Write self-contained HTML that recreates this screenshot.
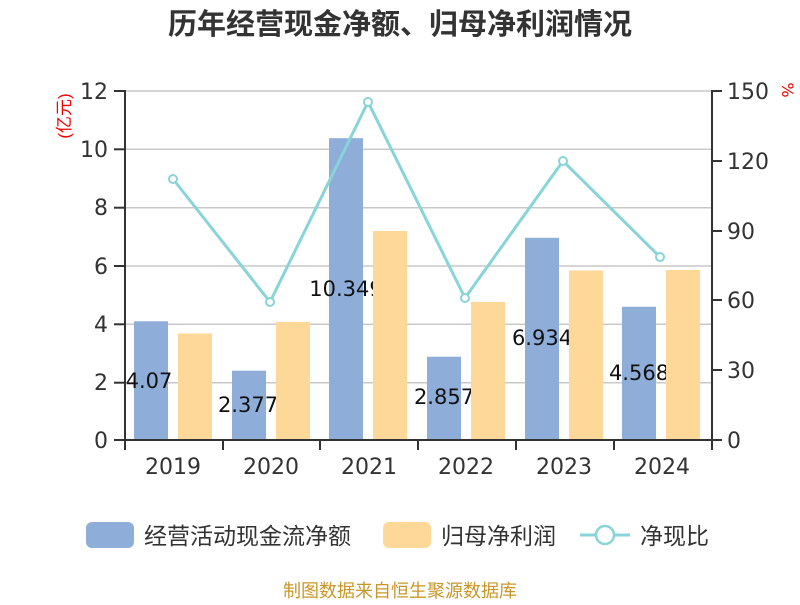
<!DOCTYPE html>
<html><head><meta charset="utf-8"><style>
html,body{margin:0;padding:0;background:#fff;}
svg text{font-family:"DejaVu Sans","Noto Sans CJK SC",sans-serif;}
svg text.cjk{font-family:"Liberation Sans","Noto Sans CJK SC",sans-serif;}
</style></head><body>
<svg width="800" height="600" viewBox="0 0 800 600" xmlns="http://www.w3.org/2000/svg">
<rect width="800" height="600" fill="#fff"/>
<text class="cjk" x="400" y="34" text-anchor="middle" font-size="29" font-weight="bold" fill="#333">历年经营现金净额、归母净利润情况</text>
<g stroke="#c8c8c8" stroke-width="1.5">
<line x1="125" x2="712" y1="91" y2="91"/>
<line x1="125" x2="712" y1="149.3" y2="149.3"/>
<line x1="125" x2="712" y1="207.7" y2="207.7"/>
<line x1="125" x2="712" y1="266" y2="266"/>
<line x1="125" x2="712" y1="324.3" y2="324.3"/>
<line x1="125" x2="712" y1="382.7" y2="382.7"/>
</g>
<g fill="#8eadd9">
<rect x="134" y="321.3" width="34" height="118.7"/>
<rect x="232" y="370.7" width="34" height="69.3"/>
<rect x="329" y="138.2" width="34" height="301.8"/>
<rect x="427" y="356.7" width="34" height="83.3"/>
<rect x="525" y="237.8" width="34" height="202.2"/>
<rect x="622" y="306.8" width="34" height="133.2"/>
</g>
<g font-size="21" fill="#111" text-anchor="middle">
<text x="149" y="388">4.07</text>
<text x="248" y="412">2.377</text>
<text x="346" y="296">10.349</text>
<text x="444" y="404">2.857</text>
<text x="542" y="345">6.934</text>
<text x="639" y="380">4.568</text>
</g>
<g fill="#fdd898">
<rect x="178" y="333.5" width="34" height="106.5"/>
<rect x="276" y="322" width="34" height="118"/>
<rect x="373" y="231" width="34" height="209"/>
<rect x="471" y="302" width="34" height="138"/>
<rect x="569" y="270.5" width="34" height="169.5"/>
<rect x="666" y="270" width="34" height="170"/>
</g>
<polyline points="173,179 270,302 368,102 465,298 563,161 660,257" fill="none" stroke="#88d4d8" stroke-width="3"/>
<g fill="#fff" stroke="#88d4d8" stroke-width="2">
<circle cx="173" cy="179" r="4"/><circle cx="270" cy="302" r="4"/><circle cx="368" cy="102" r="4"/>
<circle cx="465" cy="298" r="4"/><circle cx="563" cy="161" r="4"/><circle cx="660" cy="257" r="4"/>
</g>
<g stroke="#333" stroke-width="2">
<line x1="125" x2="125" y1="90" y2="441"/>
<line x1="712" x2="712" y1="90" y2="441"/>
<line x1="124" x2="713" y1="440" y2="440"/>
<line x1="114" x2="125" y1="91" y2="91"/><line x1="114" x2="125" y1="149.3" y2="149.3"/>
<line x1="114" x2="125" y1="207.7" y2="207.7"/><line x1="114" x2="125" y1="266" y2="266"/>
<line x1="114" x2="125" y1="324.3" y2="324.3"/><line x1="114" x2="125" y1="382.7" y2="382.7"/>
<line x1="114" x2="125" y1="440" y2="440"/>
<line x1="712" x2="722" y1="91" y2="91"/><line x1="712" x2="722" y1="161" y2="161"/>
<line x1="712" x2="722" y1="231" y2="231"/><line x1="712" x2="722" y1="300" y2="300"/>
<line x1="712" x2="722" y1="370" y2="370"/><line x1="712" x2="722" y1="440" y2="440"/>
<line x1="125" x2="125" y1="440" y2="450"/><line x1="223" x2="223" y1="440" y2="450"/>
<line x1="320" x2="320" y1="440" y2="450"/><line x1="418" x2="418" y1="440" y2="450"/>
<line x1="516" x2="516" y1="440" y2="450"/><line x1="614" x2="614" y1="440" y2="450"/>
<line x1="712" x2="712" y1="440" y2="450"/>
</g>
<g font-size="22" fill="#333" text-anchor="end">
<text x="108" y="99">12</text><text x="108" y="157">10</text><text x="108" y="215">8</text>
<text x="108" y="274">6</text><text x="108" y="332">4</text><text x="108" y="390">2</text><text x="108" y="448">0</text>
</g>
<g font-size="22" fill="#333" text-anchor="start">
<text x="727" y="99">150</text><text x="727" y="169">120</text><text x="727" y="239">90</text>
<text x="727" y="308">60</text><text x="727" y="378">30</text><text x="727" y="448">0</text>
</g>
<g font-size="22" fill="#333" text-anchor="middle">
<text x="173" y="474">2019</text><text x="271" y="474">2020</text><text x="369" y="474">2021</text>
<text x="466" y="474">2022</text><text x="564" y="474">2023</text><text x="662" y="474">2024</text>
</g>
<text class="cjk" transform="translate(70,116) rotate(-90)" font-size="17" fill="#e00" text-anchor="middle">(亿元)</text>
<text transform="translate(782,90) rotate(90)" font-size="16" fill="#e00" text-anchor="middle">%</text>
<rect x="86" y="522" width="48" height="26" rx="6" fill="#8eadd9"/>
<text class="cjk" x="144" y="544" font-size="23" fill="#333">经营活动现金流净额</text>
<rect x="383" y="522" width="48" height="26" rx="6" fill="#fdd898"/>
<text class="cjk" x="441" y="544" font-size="23" fill="#333">归母净利润</text>
<line x1="580" x2="630" y1="535" y2="535" stroke="#88d4d8" stroke-width="3"/>
<circle cx="605" cy="535" r="9" fill="#fff" stroke="#88d4d8" stroke-width="2.5"/>
<text class="cjk" x="640" y="544" font-size="23" fill="#333">净现比</text>
<text class="cjk" x="400" y="597" text-anchor="middle" font-size="18" fill="#c9962a">制图数据来自恒生聚源数据库</text>
</svg>
</body></html>
